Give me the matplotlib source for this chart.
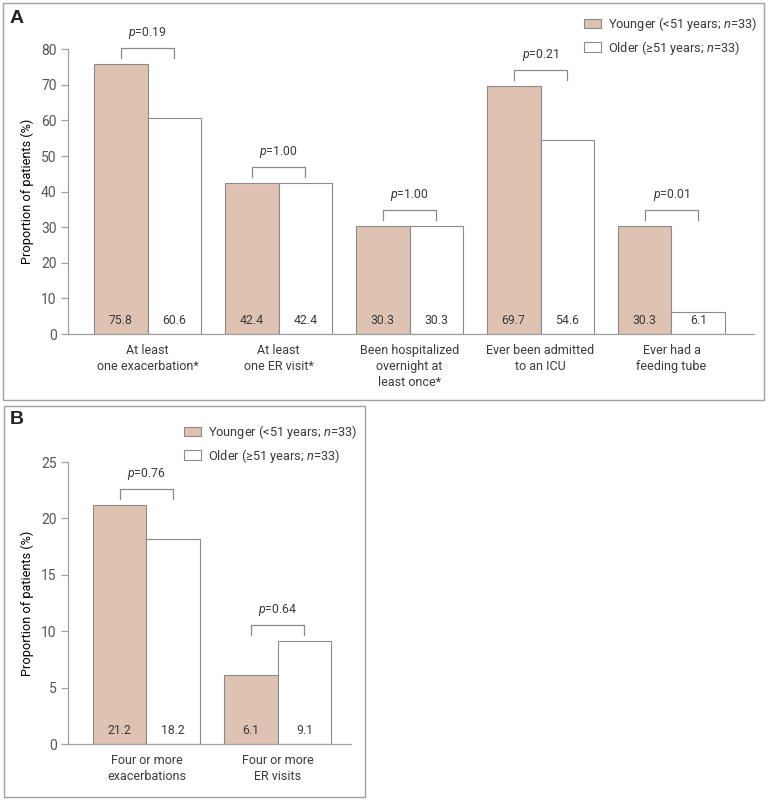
import matplotlib
matplotlib.use('Agg')
import matplotlib.pyplot as plt
from matplotlib.patches import Rectangle, Patch
import numpy as np

# ---- data ----
cats_a = ['At least\none exacerbation*', 'At least\none ER visit*',
          'Been hospitalized\novernight at\nleast once*',
          'Ever been admitted\nto an ICU', 'Ever had a\nfeeding tube']
young_a = [75.8, 42.4, 30.3, 69.7, 30.3]
old_a = [60.6, 42.4, 30.3, 54.6, 6.1]
pvals_a = ['0.19', '1.00', '1.00', '0.21', '0.01']

cats_b = ['Four or more\nexacerbations', 'Four or more\nER visits']
young_b = [21.2, 6.1]
old_b = [18.2, 9.1]
pvals_b = ['0.76', '0.64']

labels = ['Younger (<51 years; $\\it{n}$=33)', 'Older (\u226551 years; $\\it{n}$=33)']

PINK = '#dec3b3'
EDGE = '#8a8a8a'
SPINE = '#a0a0a0'
TXT = '#3a3a3a'
FONT = ['Roboto', 'DejaVu Sans']

plt.rcParams.update({
    'font.family': FONT,
    'font.size': 9,
    'text.color': TXT,
    'mathtext.fontset': 'custom',
    'mathtext.rm': 'Roboto',
    'mathtext.it': 'Roboto:italic',
})

W, H = 768, 800
fig = plt.figure(figsize=(W / 100, H / 100), dpi=100)


def panel(rect, cats, young, old, pvals, ymax, ystep, xlim):
    ax = fig.add_axes(rect)
    x = np.arange(len(cats))
    w = 0.41
    ax.bar(x - w / 2, young, w, color=PINK, edgecolor=EDGE, lw=0.8)
    ax.bar(x + w / 2, old, w, color='white', edgecolor=EDGE, lw=0.8)
    ax.set_xlim(*xlim)
    ax.set_ylim(0, ymax)
    ax.set_yticks(np.arange(0, ymax + 0.1, ystep))
    ax.set_xticks(x)
    ax.set_xticklabels(cats, fontsize=9, linespacing=1.3)
    for s in ['top', 'right']:
        ax.spines[s].set_visible(False)
    for s in ['left', 'bottom']:
        ax.spines[s].set_color(SPINE)
        ax.spines[s].set_linewidth(0.9)
    ax.tick_params(axis='x', length=0, pad=7, colors=TXT)
    ax.tick_params(axis='y', length=5, width=0.9, color=SPINE, labelsize=10,
                   labelcolor='#555555', pad=3)
    ax.set_ylabel('Proportion of patients (%)', fontsize=9.2, labelpad=5)

    # values at bar bottoms
    for xi, yv, ov in zip(x, young, old):
        ax.annotate(f'{yv:.1f}', (xi - w / 2, 0), xytext=(0, 13),
                    textcoords='offset pixels', ha='center', va='center', fontsize=8.8)
        ax.annotate(f'{ov:.1f}', (xi + w / 2, 0), xytext=(0, 13),
                    textcoords='offset pixels', ha='center', va='center', fontsize=8.8)

    # p-value brackets
    upp = ymax / ax.bbox.height
    for xi, yv, ov, p in zip(x, young, old, pvals):
        top = max(yv, ov)
        lo = top + 6 * upp
        hi = top + 16 * upp
        ax.plot([xi - w / 2, xi - w / 2, xi + w / 2, xi + w / 2], [lo, hi, hi, lo],
                color=EDGE, lw=0.9, clip_on=False)
        ax.text(xi, top + 31 * upp, f'$\\it{{p}}$={p}', ha='center', va='center',
                fontsize=8.8)
    return ax


ax_a = panel([67.7 / W, 1 - 334 / H, (754 - 67.7) / W, 284.7 / H],
             cats_a, young_a, old_a, pvals_a, 80, 10, (-0.61, 4.63))
ax_b = panel([67.7 / W, 1 - 744 / H, (351 - 67.7) / W, 282 / H],
             cats_b, young_b, old_b, pvals_b, 25, 5, (-0.60, 1.56))

# legends
handles = [Patch(facecolor=PINK, edgecolor=EDGE, lw=0.8),
           Patch(facecolor='white', edgecolor=EDGE, lw=0.8)]
for anchor in [(584 / W, 1 - 15 / H), (184 / W, 1 - 423 / H)]:
    fig.legend(handles, labels, loc='upper left', bbox_to_anchor=anchor,
               frameon=False, borderpad=0, borderaxespad=0, fontsize=9.2,
               handlelength=1.35, handleheight=0.8, handletextpad=0.5,
               labelspacing=0.45)

# panel frames and letters
for (x0, y0, x1, y1) in [(3, 3, 764, 400), (4, 406, 365, 797)]:
    fig.patches.append(Rectangle((x0 / W, 1 - y1 / H), (x1 - x0) / W, (y1 - y0) / H,
                                 transform=fig.transFigure, fill=False,
                                 edgecolor=SPINE, lw=1.0))
fig.text(10 / W, 1 - 18.5 / H, 'A', fontsize=14, fontweight='bold', va='center',
         family=['Liberation Sans', 'DejaVu Sans'], color='#222222')
fig.text(10 / W, 1 - 419 / H, 'B', fontsize=14, fontweight='bold', va='center',
         family=['Liberation Sans', 'DejaVu Sans'], color='#222222')

fig.savefig('out.png', dpi=100, facecolor='white')
